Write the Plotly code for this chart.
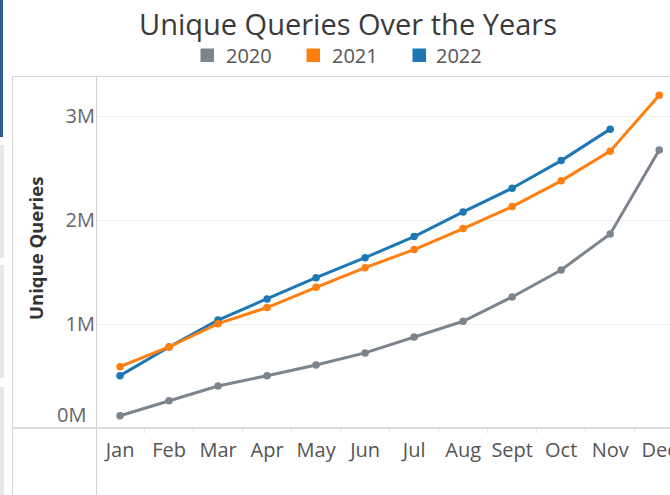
import plotly.graph_objects as go

months = ["Jan", "Feb", "Mar", "Apr", "May", "Jun", "Jul", "Aug", "Sept", "Oct", "Nov", "Dec"]
q2020 = [118000, 263000, 405000, 504000, 607000, 723000, 877000, 1028000, 1262000, 1522000, 1869000, 2678000]
q2021 = [590000, 780000, 1005000, 1160000, 1355000, 1544000, 1718000, 1920000, 2132000, 2380000, 2666000, 3205000]
q2022 = [504000, 780000, 1040000, 1243000, 1448000, 1640000, 1843000, 2081000, 2309000, 2575000, 2878000]
ytick_vals = [1000000, 2000000, 3000000]
ytick_text = ["1M", "2M", "3M"]
series_names = ["2020", "2021", "2022"]
series_colors = ["#7c848e", "#ff7f0e", "#1f77b4"]

W, H = 670, 495
L, R, T, B = 96, 670, 77, 428
FONT = "Open Sans"


def px(x):
    return (x - L) / (R - L)


def py(y):
    return (B - y) / (B - T)


fig = go.Figure()
order = [(0, q2020), (2, q2022), (1, q2021)]
for idx, vals in order:
    fig.add_trace(go.Scatter(
        x=months[:len(vals)], y=vals, mode="lines+markers",
        name=series_names[idx], showlegend=False,
        line=dict(color=series_colors[idx], width=3),
        marker=dict(color=series_colors[idx], size=7.5),
        cliponaxis=False,
    ))

shapes = []
grid_c = "#d4d4d4"
# panel borders
shapes.append(dict(type="line", xref="paper", yref="paper", x0=px(12), x1=px(670), y0=py(76.5), y1=py(76.5), line=dict(color=grid_c, width=1)))
shapes.append(dict(type="line", xref="paper", yref="paper", x0=px(12.5), x1=px(12.5), y0=py(76.5), y1=py(495), line=dict(color=grid_c, width=1)))
shapes.append(dict(type="line", xref="paper", yref="paper", x0=px(96.5), x1=px(96.5), y0=py(76.5), y1=py(495), line=dict(color=grid_c, width=1)))
shapes.append(dict(type="line", xref="paper", yref="paper", x0=px(12), x1=px(670), y0=py(428), y1=py(428), line=dict(color="#dcdcdc", width=2)))
# left dashboard edge
shapes.append(dict(type="rect", xref="paper", yref="paper", x0=px(0), x1=px(3), y0=py(0), y1=py(137), fillcolor="#2e5c8c", line=dict(width=0)))
for y0, y1 in [(145, 258), (265, 378), (387, 495)]:
    shapes.append(dict(type="rect", xref="paper", yref="paper", x0=px(0), x1=px(4), y0=py(y0), y1=py(y1), fillcolor="#e3e8ea", line=dict(width=0)))
# legend squares
for x0, c in zip([200.5, 306.5, 412.5], series_colors):
    shapes.append(dict(type="rect", xref="paper", yref="paper", x0=px(x0), x1=px(x0 + 13.5), y0=py(48.5), y1=py(62), fillcolor=c, line=dict(width=0)))

annotations = []
for x0, name in zip([223.5, 329.5, 433.5], series_names):
    annotations.append(dict(text=name, xref="paper", yref="paper", x=px(x0), y=py(55.5), xanchor="left", yanchor="middle", showarrow=False, font=dict(family=FONT, size=20, color="#555555")))
annotations.append(dict(text="<b>Unique Queries</b>", xref="paper", yref="paper", x=px(35), y=py(249), xanchor="center", yanchor="middle", textangle=-90, showarrow=False, font=dict(family=FONT, size=18.5, color="#333333")))
annotations.append(dict(text="0M", xref="paper", yref="y", x=px(88), y=0, yshift=14, xanchor="right", yanchor="middle", showarrow=False, font=dict(family=FONT, size=20, color="#666666")))

fig.update_layout(
    width=W, height=H,
    margin=dict(l=L, r=W - R, t=T, b=H - B, pad=0, autoexpand=False),
    paper_bgcolor="white", plot_bgcolor="white",
    title=dict(text="Unique Queries Over the Years", x=348 / W, xanchor="center", y=1 - 25 / H, yanchor="middle", yref="container", font=dict(family=FONT, size=29, color="#3a3a3a")),
    shapes=shapes, annotations=annotations,
    xaxis=dict(type="category", categoryorder="array", categoryarray=months, range=[-0.49, 11.22],
               showgrid=False, zeroline=False, showline=False, automargin=False,
               ticks="outside", tickson="boundaries", ticklen=4, tickcolor="#e2e2e2", tickwidth=1,
               tickangle=0, ticklabelstandoff=8,
               tickfont=dict(family=FONT, size=20, color="#555555")),
    yaxis=dict(range=[0, 3380000], tickvals=ytick_vals, ticktext=ytick_text, automargin=False,
               showgrid=True, gridcolor="#eeeeee", gridwidth=1, zeroline=False, showline=False,
               ticks="", tickfont=dict(family=FONT, size=20, color="#666666")),
    showlegend=False,
)

fig.write_html("out.html", config={"displayModeBar": False},
               post_script="document.body.style.margin='0px';document.body.style.overflow='hidden';")
